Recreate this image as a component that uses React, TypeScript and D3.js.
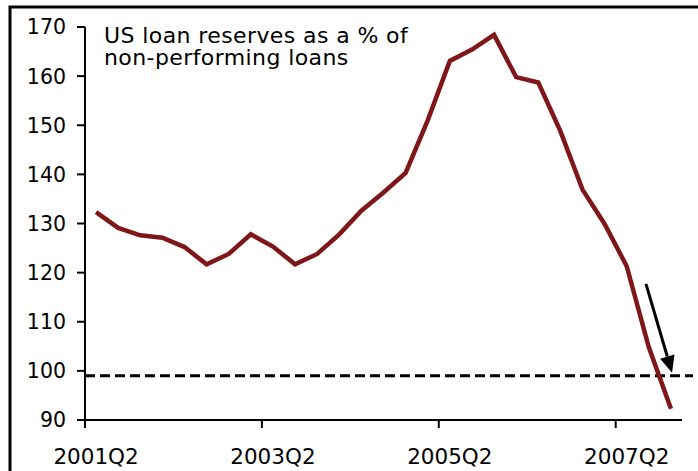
import React from "react";
import * as d3 from "d3";

const quarters = [
  "2001Q2","2001Q3","2001Q4","2002Q1","2002Q2","2002Q3","2002Q4","2003Q1","2003Q2",
  "2003Q3","2003Q4","2004Q1","2004Q2","2004Q3","2004Q4","2005Q1","2005Q2","2005Q3",
  "2005Q4","2006Q1","2006Q2","2006Q3","2006Q4","2007Q1","2007Q2","2007Q3","2007Q4",
];
const reserveRatio = [
  132.3, 129.1, 127.6, 127.1, 125.2, 121.7, 123.8, 127.8, 125.3,
  121.7, 123.8, 127.8, 132.6, 136.3, 140.3, 151.0, 163.1, 165.4,
  168.4, 159.8, 158.7, 148.8, 136.9, 129.9, 121.3, 104.8, 92.3,
];
const yTicks = [90, 100, 110, 120, 130, 140, 150, 160, 170];
const xTickLabels = ["2001Q2", "2003Q2", "2005Q2", "2007Q2"];
const thresholdValue = [99];
const titleLines = ["US loan reserves as a % of", "non-performing loans"];
// arrow annotation in data space: [category index (fractional), value]
const arrowStart = [24.87, 117.7];
const arrowEnd = [26.05, 99.6];

const W = 698;
const H = 471;
const FONT = "'DejaVu Sans', Verdana, sans-serif";

export default function App() {
  const left = 85, right = 682, top = 27, bottom = 420;
  const x = d3.scaleBand<string>().domain(quarters).range([left, right]).padding(0);
  const y = d3.scaleLinear().domain([90, 170]).range([bottom, top]);
  const bw = x.bandwidth();
  const cx = (i: number) => left + (i + 0.5) * bw;

  const line = d3
    .line<number>()
    .x((_, i) => (x(quarters[i]) as number) + bw / 2)
    .y((d) => y(d));

  const ax1 = cx(arrowStart[0]), ay1 = y(arrowStart[1]);
  const ax2 = cx(arrowEnd[0]), ay2 = y(arrowEnd[1]);
  const ang = Math.atan2(ay2 - ay1, ax2 - ax1);
  const headLen = 17, headHalf = 7.5;
  const bx = ax2 - headLen * Math.cos(ang), by = ay2 - headLen * Math.sin(ang);
  const px = -Math.sin(ang) * headHalf, py = Math.cos(ang) * headHalf;

  return (
    <svg width={W} height={H} style={{ position: "absolute", left: 0, top: 0, background: "#fff" }}>
      <rect x={0} y={0} width={W} height={H} fill="#fff" />
      {/* frame */}
      <rect x={10} y={7} width={W + 20} height={H + 20} fill="none" stroke="#000" strokeWidth={3} />

      {/* title */}
      <text fontFamily={FONT} fontSize={22} letterSpacing={0.4} fill="#000">
        {titleLines.map((t, i) => (
          <tspan key={i} x={104} y={43 + i * 22}>{t}</tspan>
        ))}
      </text>

      {/* y axis */}
      <line x1={left} x2={left} y1={top} y2={bottom} stroke="#000" strokeWidth={2} />
      {yTicks.map((t) => (
        <g key={t}>
          <line x1={left - 8} x2={left} y1={y(t)} y2={y(t)} stroke="#000" strokeWidth={2} />
          <text x={66} y={y(t)} dy="0.36em" textAnchor="end" fontFamily={FONT} fontSize={20.5} fill="#000">
            {t}
          </text>
        </g>
      ))}

      {/* x axis */}
      <line x1={left} x2={right} y1={bottom} y2={bottom} stroke="#000" strokeWidth={2} />
      {xTickLabels.map((q) => {
        const x0 = x(q) as number;
        return (
          <g key={q}>
            <line x1={x0} x2={x0} y1={bottom} y2={bottom + 8} stroke="#000" strokeWidth={2} />
            <text x={x0 + bw / 2} y={464} textAnchor="middle" fontFamily={FONT} fontSize={21.5} fill="#000">
              {q}
            </text>
          </g>
        );
      })}

      {/* threshold dashed line */}
      {thresholdValue.map((v) => (
        <line key={v} x1={left} x2={693} y1={y(v)} y2={y(v)} stroke="#000" strokeWidth={3} strokeDasharray="10 5" />
      ))}

      {/* data line */}
      <path d={line(reserveRatio) as string} fill="none" stroke="#7f1619" strokeWidth={4.5} />

      {/* arrow */}
      <line x1={ax1} y1={ay1} x2={bx} y2={by} stroke="#000" strokeWidth={3} />
      <polygon points={`${ax2},${ay2} ${bx + px},${by + py} ${bx - px},${by - py}`} fill="#000" />
    </svg>
  );
}
